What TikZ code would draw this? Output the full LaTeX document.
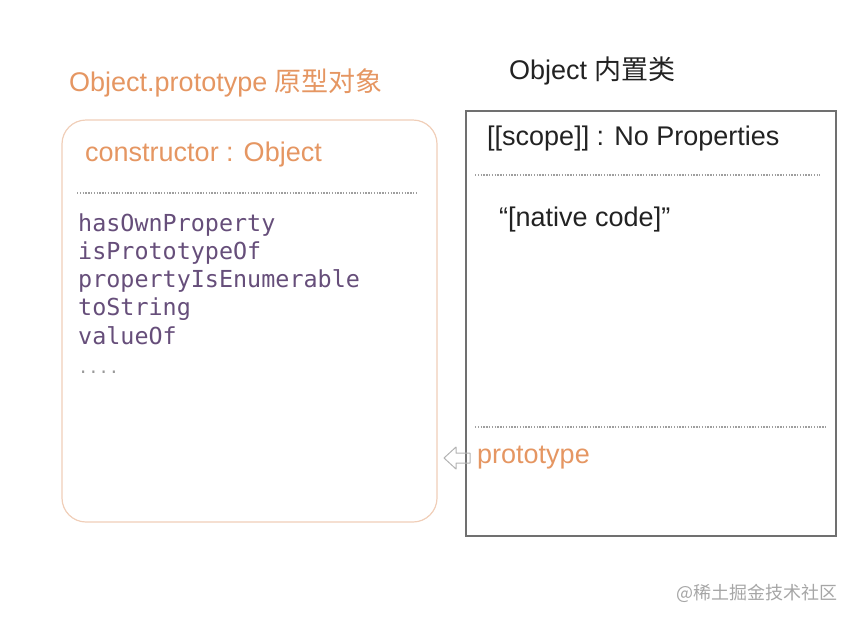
\documentclass[tikz,border=0pt]{standalone}
\usepackage{fontspec}
\setmainfont{Liberation Sans}
\setmonofont{DejaVu Sans Mono}
\newfontfamily\cjk{Noto Sans CJK SC}
\definecolor{protoorange}{RGB}{229,150,98}
\definecolor{boxorange}{RGB}{240,206,184}
\definecolor{methodpurple}{RGB}{102,78,122}
\definecolor{framegray}{RGB}{112,112,112}
\definecolor{textdark}{RGB}{34,34,34}
\tikzset{
  heading/.style={anchor=west, inner sep=0pt, font=\fontsize{27}{31}\selectfont},
  method/.style={anchor=west, inner sep=0pt, text=methodpurple, font=\ttfamily\fontsize{23.4}{28}\selectfont},
  divider/.style={gray!75, line width=1.2pt, dash pattern=on 1.4pt off 1.4pt},
}
\begin{document}
\begin{tikzpicture}[x=1pt,y=-1pt]
    \useasboundingbox (0,0) rectangle (856,622);
    %\draw[very thin,color=gray] (0,0) grid[step=50] (856,622);
    % left box: the prototype object
    \node[heading, text=protoorange] (prototitle) at (69,83) {Object.prototype {\cjk 原型对象}};
    \draw[boxorange, line width=1.2pt, rounded corners=24pt] (62,120) rectangle (437,522);
    \node[heading, text=protoorange] (ctor) at (85,155) {constructor : Object};
    \draw[divider] (77,193) -- (418,193);
    \foreach \name/\y in {hasOwnProperty/225, isPrototypeOf/253, propertyIsEnumerable/281, toString/309, valueOf/336}
        \node[method] (m-\name) at (78,\y) {\name};
    \node[method, text=gray!80, font=\ttfamily\fontsize{17}{20}\selectfont] (more) at (78,372) {....};
    % right box: the built-in Object function
    \node[heading, text=textdark] (objtitle) at (509,71) {Object {\cjk 内置类}};
    \draw[framegray, line width=1.4pt] (466,111) rectangle (836,536);
    \node[heading, text=textdark] (scope) at (487,139) {[[scope]] : No Properties};
    \draw[divider] (475,175) -- (820,175);
    \node[heading, text=textdark] (native) at (499,220) {``[native code]''};
    \draw[divider] (475,427) -- (826,427);
    % hollow arrow and label
    \draw[gray!60, line width=1pt, line join=round] (444,458) -- (456,447) -- (456,453) -- (470,453)
        -- (470,463) -- (456,463) -- (456,469) -- cycle;
    \node[heading, text=protoorange] (protolabel) at (477,458) {prototype};
    \node[anchor=east, inner sep=0pt, text=gray!70, font=\cjk\fontsize{18}{20}\selectfont] (mark) at (838,593) {@稀土掘金技术社区};
\end{tikzpicture}
\end{document}
